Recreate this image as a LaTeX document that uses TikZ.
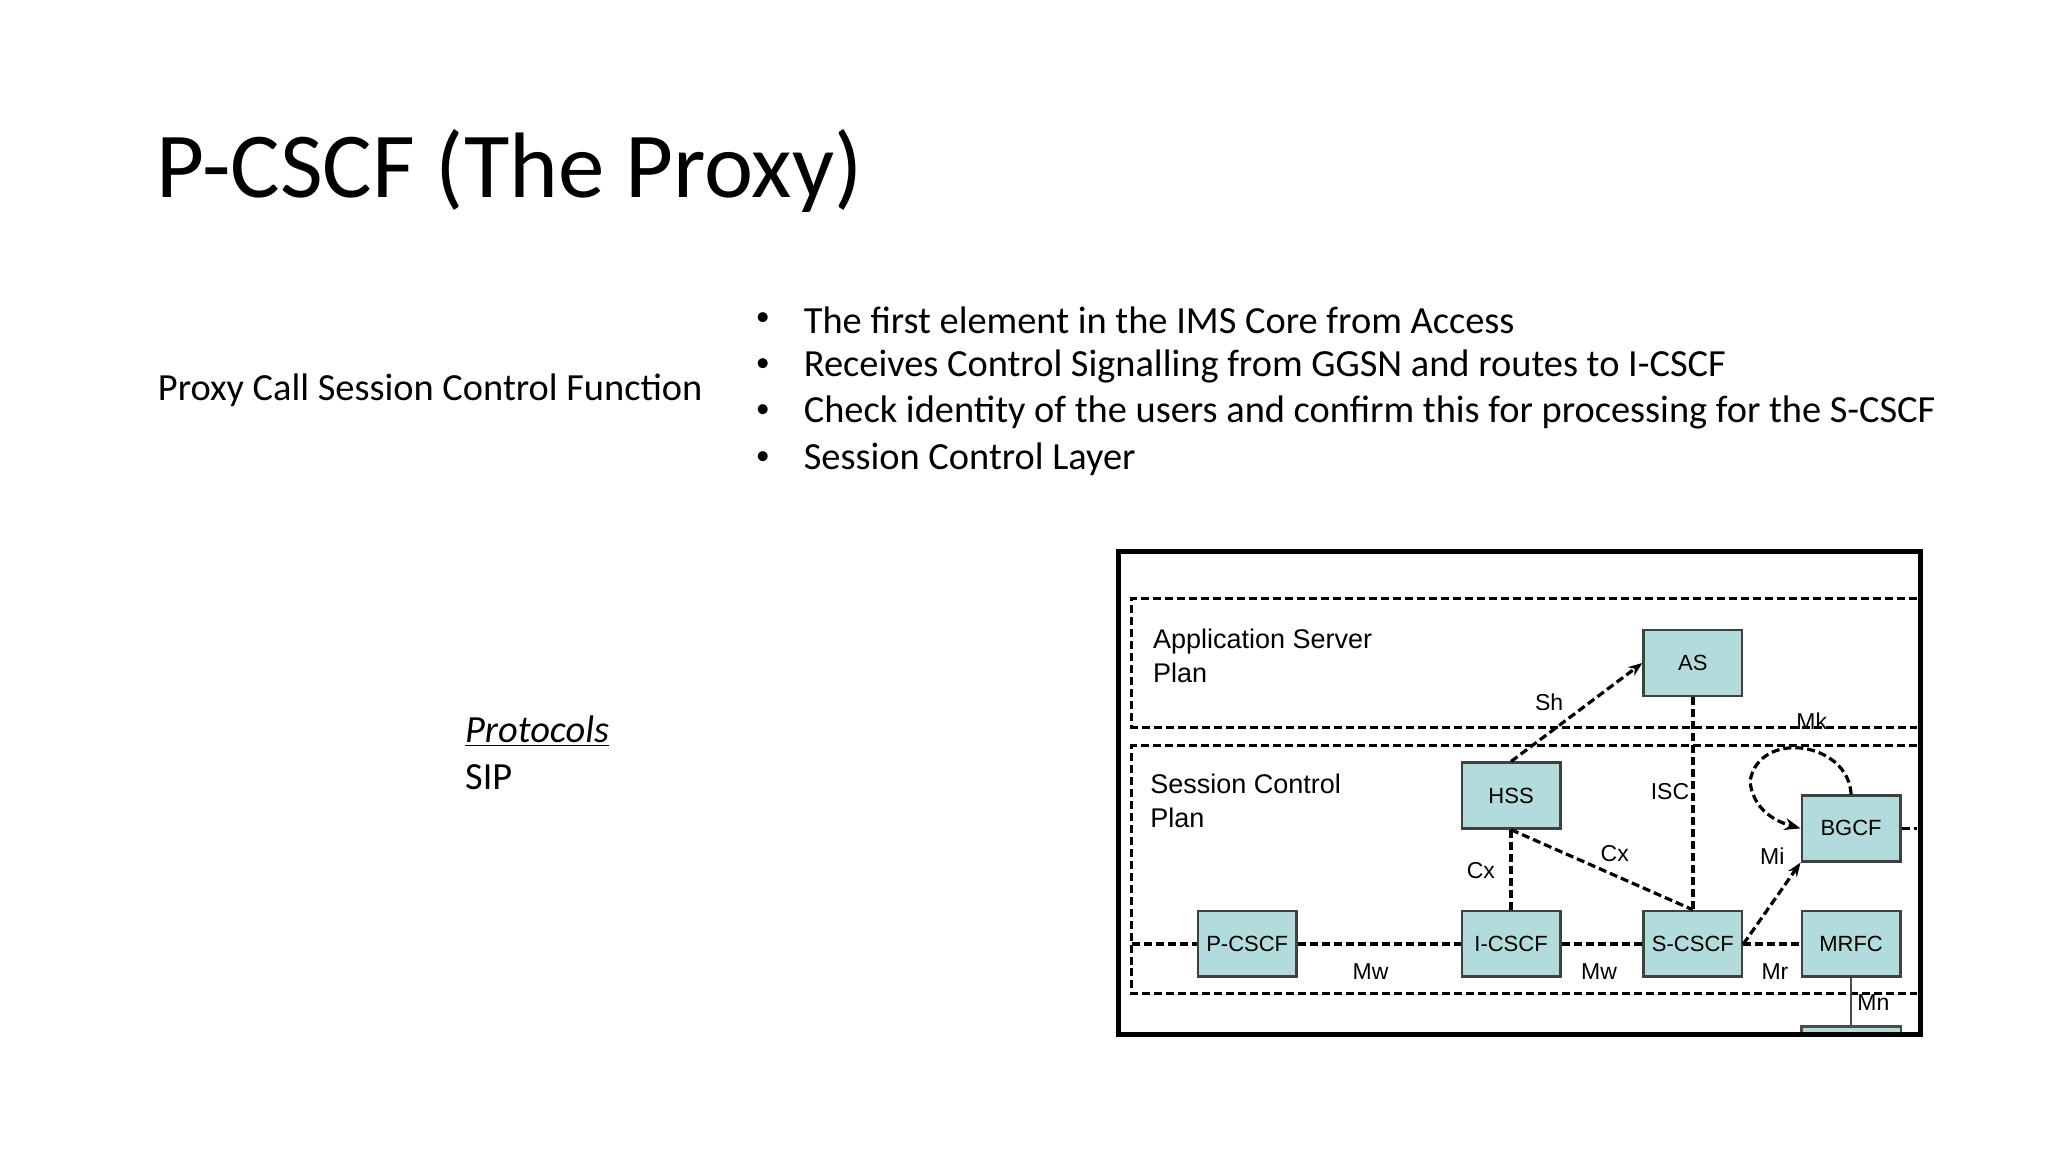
\documentclass[tikz,border=0pt]{standalone}
\usepackage{fontspec}
\setmainfont{Carlito}
\newfontfamily\diag{Liberation Sans}
\usetikzlibrary{arrows.meta}
\definecolor{boxc}{RGB}{178,220,220}
\begin{document}
\begin{tikzpicture}[x=0.6565pt,y=-0.6565pt,
  ent/.style={draw=black!75,line width=1.3pt,fill=boxc,minimum width=75*0.6565pt,minimum height=50*0.6565pt,inner sep=0pt,font=\diag\fontsize{11}{12}\selectfont},
  dl/.style={dashed,line width=1.6pt,dash pattern=on 4pt off 2pt},
  lab/.style={font=\diag\fontsize{11.5}{12}\selectfont,inner sep=1pt},
  bt/.style={anchor=west,font=\fontsize{19.2}{23}\selectfont,inner sep=0pt}]
\useasboundingbox (0,0) rectangle (1560,877.5);
\node[anchor=west,inner sep=0pt,font=\fontsize{46.5}{56}\selectfont] (title) at (119,130) {P-CSCF (The Proxy)};
\node[anchor=west,inner sep=0pt,font=\fontsize{19.2}{23}\selectfont] (pc) at (120,297) {Proxy Call Session Control Function};
\foreach \yy/\t [count=\i] in {244/The first element in the IMS Core from Access,279/Receives Control Signalling from GGSN and routes to I-CSCF,314/Check identity of the users and confirm this for processing for the S-CSCF,350/Session Control Layer}{
  \node[bt] (b\i) at (612,\yy) {\t};
  \node[anchor=center,inner sep=0pt,font=\fontsize{14}{16}\selectfont] (d\i) at (581,\yy-1) {•};
}
\node[anchor=west,inner sep=0pt,font=\fontsize{19.2}{23}\selectfont\itshape] (prot) at (354,557) {\underline{Protocols}};
\node[anchor=west,inner sep=0pt,font=\fontsize{19.2}{23}\selectfont] (sip) at (354,592) {SIP};
% diagram
\draw[dl] (1460,456) -- (862,456) -- (862,554) -- (1460,554);
\draw[dl] (1460,568) -- (862,568) -- (862,757) -- (1460,757);
\node[ent] (as) at (1289.5,505) {AS};
\node[ent] (hss) at (1151,606) {HSS};
\node[ent] (bgcf) at (1410,631) {BGCF};
\node[ent] (pcscf) at (950,719) {P-CSCF};
\node[ent] (icscf) at (1151,719) {I-CSCF};
\node[ent] (scscf) at (1289.5,719) {S-CSCF};
\node[ent] (mrfc) at (1410,719) {MRFC};
\coordinate (l0) at (862,719);
\coordinate (br) at (1460,631);
\coordinate (mb) at (1410,783);
\draw[dl] (l0) -- (pcscf.west);
\draw[dl] (pcscf) -- (icscf);
\draw[dl] (icscf) -- (scscf);
\draw[dl] (scscf) -- (mrfc);
\draw[dl,-{Stealth[length=7pt]}] (hss.north) -- (as.west);
\draw[dl] (as.south) -- (scscf.north);
\draw[dl] (hss.south) -- (icscf.north);
\draw[dl] (hss.south) -- (scscf.north);
\draw[dl,-{Stealth[length=7pt]}] (scscf.east) -- (bgcf.south west);
\draw[dl,-{Stealth[length=8pt]}] (bgcf.north) .. controls (1408,565) and (1340,555) .. (1333,595) .. controls (1335,615) and (1350,625) .. (bgcf.west);
\draw[dl] (bgcf.east) -- (br);
\draw[line width=1pt,black!70] (mrfc.south) -- (mb);
\draw[line width=1.3pt,black!70,fill=boxc] (1372,790) -- (1372,782) -- (1448,782) -- (1448,790);
\node[lab] (sh) at (1180,535) {Sh};
\node[lab] (isc) at (1272,603) {ISC};
\node[lab] (mk) at (1380,549) {Mk};
\node[lab] (cx1) at (1128,663) {Cx};
\node[lab] (cx2) at (1230,650) {Cx};
\node[lab] (mi) at (1350,652) {Mi};
\node[lab] (mw1) at (1044,740) {Mw};
\node[lab] (mw2) at (1218,740) {Mw};
\node[lab] (mr) at (1352,740) {Mr};
\node[lab] (mn) at (1427,764) {Mn};
\node[anchor=north west,inner sep=0pt,align=left,font=\diag\fontsize{13.5}{17}\selectfont] (asp) at (878,479) {Application Server\\Plan};
\node[anchor=north west,inner sep=0pt,align=left,font=\diag\fontsize{13.5}{17}\selectfont] (scp) at (876,589) {Session Control\\Plan};
\draw[line width=2.6pt] (852,420) rectangle (1463,788);
\end{tikzpicture}
\end{document}
